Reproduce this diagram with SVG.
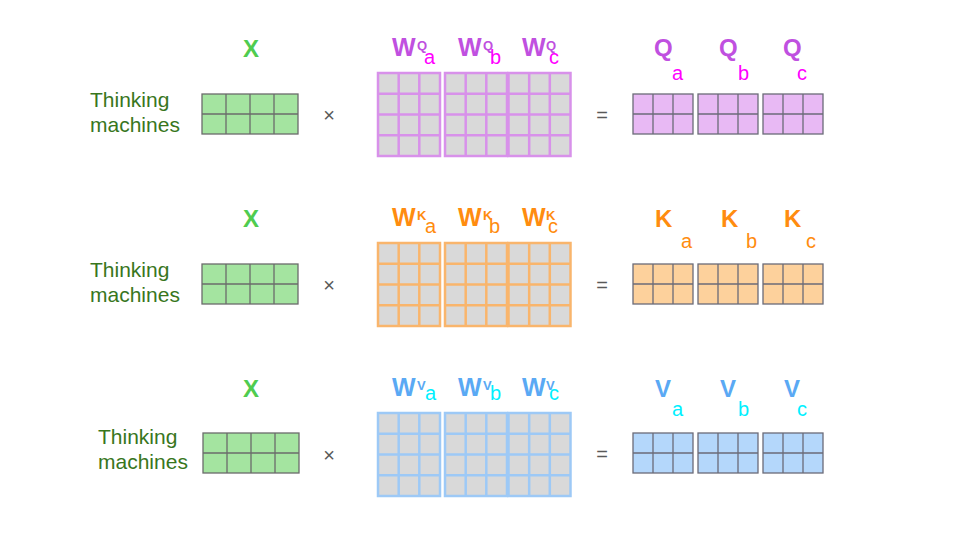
<svg xmlns="http://www.w3.org/2000/svg" width="960" height="540" viewBox="0 0 960 540">
<style>
text{font-family:"Liberation Sans",Arial,sans-serif}
.lbl{font-size:21px;fill:#38761d}
.xl{font-size:24px;font-weight:bold;fill:#4fcc4f;text-anchor:middle}
.op{font-size:20px;fill:#595959;text-anchor:middle}
.big{font-size:24px;font-weight:bold}
.bigw{font-size:25px;font-weight:bold}
.sup{font-size:13px;font-weight:bold}
.sub{font-size:20px}
.xm{fill:#a4e4a0;stroke:#6b6b6b;stroke-width:1.3}
.w{fill:#d9d9d9;stroke-width:2.5}
.wq{stroke:#d891ea}
.wk{stroke:#f9b56c}
.wv{stroke:#9dc9f6}
.o{stroke:#6b6b78;stroke-width:1.3}
.oq{fill:#e8b9f4}
.ok{fill:#fdd19c}
.ov{fill:#b4d7fb}
.cq{fill:#c050e0}.sq{fill:#ff00ff}
.ck{fill:#ff8c0f}.sk{fill:#ff8c0f}
.cv{fill:#5aa9f4}.sv{fill:#00f0ff}
</style>
<defs>
<g id="xgrid"><rect x="0" y="0" width="96" height="40"/><path fill="none" d="M24 0v40M48 0v40M72 0v40M0 20h96"/></g>
<g id="wgrid"><rect x="0" y="0" width="62" height="83"/><path fill="none" d="M20.7 0v83M41.3 0v83M0 20.75h62M0 41.5h62M0 62.25h62"/></g>
<g id="ogrid"><rect x="0" y="0" width="60" height="40"/><path fill="none" d="M20 0v40M40 0v40M0 20h60"/></g>
</defs>

<!-- Row 1: Q -->
<g id="input1"><text class="lbl" x="90" y="107">Thinking</text><text class="lbl" x="90" y="132">machines</text></g>
<g id="xlabel1"><text class="xl" x="251" y="57">X</text></g>
<g id="x1" class="xm" transform="translate(202,94)"><use href="#xgrid"/></g>
<g id="times1"><text class="op" x="329" y="122">×</text></g>
<g id="wq">
<text x="392" y="56" class="bigw cq">W</text><text x="417" y="50" class="sup cq">Q</text><text x="424" y="64" class="sub sq">a</text>
<text x="458" y="56" class="bigw cq">W</text><text x="483" y="50" class="sup cq">Q</text><text x="490" y="64" class="sub sq">b</text>
<text x="522" y="56" class="bigw cq">W</text><text x="546" y="50" class="sup cq">Q</text><text x="549" y="64" class="sub sq">c</text>
<g class="w wq" transform="translate(378,73)"><use href="#wgrid"/></g>
<g class="w wq" transform="translate(445,73)"><use href="#wgrid"/></g>
<g class="w wq" transform="translate(508.5,73)"><use href="#wgrid"/></g>
</g>
<g id="eq1"><text class="op" x="602" y="122">=</text></g>
<g id="q">
<text x="654" y="56" class="big cq">Q</text><text x="672" y="80" class="sub sq">a</text>
<text x="719" y="56" class="big cq">Q</text><text x="738" y="80" class="sub sq">b</text>
<text x="783" y="56" class="big cq">Q</text><text x="797" y="80" class="sub sq">c</text>
<g class="o oq" transform="translate(633,94)"><use href="#ogrid"/></g>
<g class="o oq" transform="translate(698,94)"><use href="#ogrid"/></g>
<g class="o oq" transform="translate(763,94)"><use href="#ogrid"/></g>
</g>

<!-- Row 2: K -->
<g id="input2"><text class="lbl" x="90" y="277">Thinking</text><text class="lbl" x="90" y="302">machines</text></g>
<g id="xlabel2"><text class="xl" x="251" y="227">X</text></g>
<g id="x2" class="xm" transform="translate(202,264)"><use href="#xgrid"/></g>
<g id="times2"><text class="op" x="329" y="292">×</text></g>
<g id="wk">
<text x="392" y="226" class="bigw ck">W</text><text x="417" y="220" class="sup ck">K</text><text x="425" y="233" class="sub sk">a</text>
<text x="458" y="226" class="bigw ck">W</text><text x="483" y="220" class="sup ck">K</text><text x="489" y="233" class="sub sk">b</text>
<text x="522" y="226" class="bigw ck">W</text><text x="546" y="220" class="sup ck">K</text><text x="548" y="233" class="sub sk">c</text>
<g class="w wk" transform="translate(378,243)"><use href="#wgrid"/></g>
<g class="w wk" transform="translate(445,243)"><use href="#wgrid"/></g>
<g class="w wk" transform="translate(508.5,243)"><use href="#wgrid"/></g>
</g>
<g id="eq2"><text class="op" x="602" y="292">=</text></g>
<g id="k">
<text x="655" y="227" class="big ck">K</text><text x="681" y="248" class="sub sk">a</text>
<text x="721" y="227" class="big ck">K</text><text x="746" y="248" class="sub sk">b</text>
<text x="784" y="227" class="big ck">K</text><text x="806" y="248" class="sub sk">c</text>
<g class="o ok" transform="translate(633,264)"><use href="#ogrid"/></g>
<g class="o ok" transform="translate(698,264)"><use href="#ogrid"/></g>
<g class="o ok" transform="translate(763,264)"><use href="#ogrid"/></g>
</g>

<!-- Row 3: V -->
<g id="input3"><text class="lbl" x="98" y="444">Thinking</text><text class="lbl" x="98" y="469">machines</text></g>
<g id="xlabel3"><text class="xl" x="251" y="397">X</text></g>
<g id="x3" class="xm" transform="translate(203,433)"><use href="#xgrid"/></g>
<g id="times3"><text class="op" x="329" y="462">×</text></g>
<g id="wv">
<text x="392" y="396" class="bigw cv">W</text><text x="417" y="390" class="sup cv">V</text><text x="425" y="400" class="sub sv">a</text>
<text x="458" y="396" class="bigw cv">W</text><text x="483" y="390" class="sup cv">V</text><text x="490" y="400" class="sub sv">b</text>
<text x="522" y="396" class="bigw cv">W</text><text x="546" y="390" class="sup cv">V</text><text x="549" y="400" class="sub sv">c</text>
<g class="w wv" transform="translate(378,413)"><use href="#wgrid"/></g>
<g class="w wv" transform="translate(445,413)"><use href="#wgrid"/></g>
<g class="w wv" transform="translate(508.5,413)"><use href="#wgrid"/></g>
</g>
<g id="eq3"><text class="op" x="602" y="461">=</text></g>
<g id="v">
<text x="655" y="397" class="big cv">V</text><text x="672" y="416" class="sub sv">a</text>
<text x="720" y="397" class="big cv">V</text><text x="738" y="416" class="sub sv">b</text>
<text x="784" y="397" class="big cv">V</text><text x="797" y="416" class="sub sv">c</text>
<g class="o ov" transform="translate(633,433)"><use href="#ogrid"/></g>
<g class="o ov" transform="translate(698,433)"><use href="#ogrid"/></g>
<g class="o ov" transform="translate(763,433)"><use href="#ogrid"/></g>
</g>
<g id="connectors"/>
</svg>
